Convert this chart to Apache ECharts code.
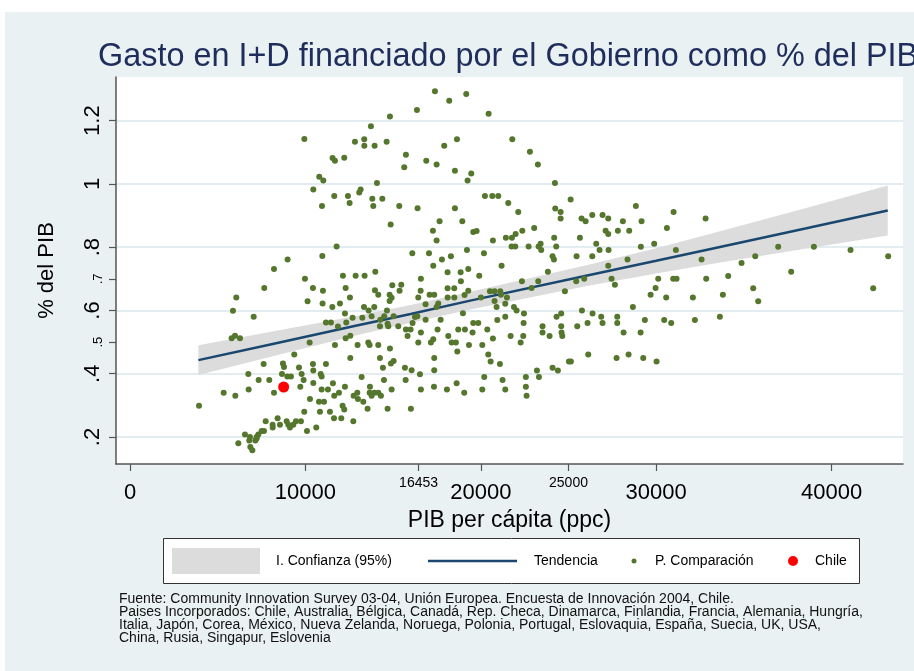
<!DOCTYPE html>
<html>
<head>
<meta charset="utf-8">
<title>Gasto en I+D financiado por el Gobierno</title>
<script src="https://cdn.jsdelivr.net/npm/echarts@6/dist/echarts.min.js"></script>
<style>
  html, body { margin: 0; padding: 0; background: #fff; }
  #chart { width: 914px; height: 671px; }
</style>
</head>
<body>
<div id="chart"></div>
<script>
// ejes
var xMin = -798, xMax = 44070;
var yMin = 0.1146, yMax = 1.338;
var xTicks = [0, 10000, 20000, 30000, 40000];
var xMinorTicks = [16453, 25000];
var yTicks = [0.2, 0.4, 0.6, 0.8, 1, 1.2];
var yMinorTicks = [0.5, 0.7];

// tendencia e intervalo de confianza
var fitX = [3900, 8200, 12800, 16000, 19400, 26200, 30000, 33900, 38500, 43200];
var fitY = [0.443, 0.495, 0.551, 0.589, 0.631, 0.712, 0.757, 0.804, 0.859, 0.916];
var ciHi = [0.490, 0.534, 0.582, 0.617, 0.659, 0.745, 0.797, 0.854, 0.923, 0.995];
var ciLo = [0.396, 0.456, 0.520, 0.561, 0.603, 0.679, 0.717, 0.754, 0.795, 0.837];

// Chile
var chile = [[8760, 0.358]];

// paises de comparacion [PIB per capita, % del PIB]
var compA = [
  [9940,1.142],[12825,1.133],[11550,1.082],[11685,1.073],[12215,1.083],[10790,1.023],[11020,1.011],[10450,0.982],[11645,0.962],[12425,0.962],[10945,0.930],[12520,0.940],[13070,0.973],
  [11780,0.802],[10965,0.772],[8985,0.761],[8210,0.731],[7655,0.671],[6060,0.641],[5870,0.599],[7050,0.580],[9975,0.700],[10430,0.671],[11000,0.662],[12140,0.710],[12865,0.710],[12295,0.671],[10125,0.629],[10980,0.622],[11535,0.611],[11970,0.622],[12540,0.641],[12255,0.590],[11170,0.562],[11455,0.562],[11855,0.549],[12330,0.562],[12690,0.577],[12295,0.512],[12560,0.520],[11685,0.491],[12975,0.491],[10240,0.499],[12560,0.450],[9365,0.461],
  [5795,0.512],[5985,0.520],[6270,0.512],
  [7620,0.431],[8720,0.432],[8780,0.421],[6745,0.399],[7335,0.380],[7940,0.380],[6765,0.350],[5340,0.340],[6005,0.330],[3935,0.299],[8210,0.340],
  [8665,0.399],[8970,0.391],[9175,0.391],[9635,0.420],[9785,0.399],[9900,0.380],[10430,0.431],[10450,0.410],[10870,0.399],[10925,0.391],[11170,0.431],[9710,0.359],[10450,0.371],[10260,0.320],[10775,0.311],[11060,0.311],[10925,0.350],[11285,0.350],[11570,0.370],[11645,0.330],[11915,0.340],[12255,0.359],[12120,0.299],[12215,0.287],[12750,0.330],[12960,0.340],[12995,0.320],[11400,0.280],[10830,0.280],[9935,0.280],[11630,0.259],[12045,0.259],[12730,0.250],[10620,0.230],[10090,0.219],
  [7735,0.250],[8415,0.259],[8130,0.239],[8135,0.230],[8550,0.239],[8930,0.250],[9025,0.239],[9120,0.230],[9310,0.239],[9460,0.250],[9745,0.250],[7640,0.219],[7505,0.219],[7315,0.208],[7220,0.200],[7145,0.189],[6840,0.200],[6555,0.208],[6800,0.189],[6175,0.180],[6860,0.168],[6975,0.158],[7220,0.195]
];
var compB = [
  [17385,1.293],[18200,1.263],[19170,1.284],[16360,1.234],[14820,1.213],[13735,1.182],[13355,1.141],[13360,1.121],[13945,1.121],[14630,1.133],[15730,1.092],[15635,1.053],[16890,1.073],[17480,1.061],[17915,1.121],[18640,1.141],[18525,1.042],[19455,1.033],[19245,1.011],[14080,1.003],[13150,0.982],[13815,0.953],[14385,0.953],[13870,0.930],[15350,0.930],[16395,0.923],[18525,0.923],[14860,0.872],[17650,0.882],[18945,0.882],[17270,0.852],[17480,0.821],[19570,0.848],
  [19210,0.791],[16095,0.781],[17045,0.781],[17785,0.761],[18295,0.771],[17290,0.741],[13375,0.710],[13985,0.722],[18105,0.721],[18850,0.721],[19285,0.731],[16585,0.700],[18865,0.692],[13965,0.664],[14155,0.650],[14800,0.650],[14915,0.640],[15465,0.681],[14955,0.680],[15370,0.662],[17080,0.650],[17345,0.650],[16435,0.641],[16570,0.662],[18105,0.670],[18485,0.670],[18110,0.641],[18490,0.641],[19075,0.649],[19285,0.662],
  [13340,0.611],[13605,0.600],[13775,0.582],[13925,0.611],[13245,0.577],[14650,0.600],[14800,0.630],[15030,0.582],[14270,0.571],[14495,0.582],[14725,0.550],[15295,0.550],[14250,0.550],[14685,0.558],[15730,0.540],[15995,0.540],[16110,0.560],[16245,0.579],[16380,0.582],[16855,0.571],[16850,0.620],[17575,0.622],[17480,0.611],[17710,0.571],[18980,0.591],[17535,0.540],[19570,0.560],
  [15825,0.519],[16435,0.499],[16585,0.530],[17155,0.499],[17290,0.509],[18145,0.519],[18335,0.499],[18580,0.499],[18660,0.470],[19095,0.540],[18715,0.540],[19530,0.530],[19325,0.491],[13585,0.499],[13660,0.491],[14155,0.491],[14820,0.480],[14250,0.450],[14875,0.432],[15030,0.440],[14420,0.419],[15675,0.419],[16055,0.411],[16530,0.398],[15715,0.380],[17345,0.450],[17345,0.411],[16585,0.350],[17330,0.359],[18070,0.350],[18620,0.370],[19055,0.340],[14915,0.350],[14480,0.380],[13205,0.390],[13680,0.359],[13660,0.340],[13925,0.340],[14155,0.340],[14305,0.330],[13775,0.330],[13300,0.311],[13545,0.289],[14685,0.289],[16015,0.289]
];
var compC = [
  [20445,1.222],[21795,1.141],[22800,1.102],[23255,1.061],[24225,1.003],[25120,0.951],[20235,0.962],[20655,0.962],[20995,0.962],[21565,0.940],[22135,0.911],[24245,0.922],[24550,0.911],[24550,0.891],[25745,0.891],[25975,0.882],[19760,0.851],[20690,0.821],[21430,0.830],[21775,0.830],[21985,0.842],[22365,0.852],[23045,0.861],[21755,0.802],[21965,0.802],[22725,0.802],[23295,0.802],[23410,0.811],[23445,0.791],[24185,0.830],[24300,0.802],[25650,0.830],[20180,0.781],[24090,0.771],[24170,0.761],[25460,0.771],[21185,0.741],[19910,0.710],[23825,0.722],[22345,0.692],[23275,0.692],[25440,0.692],[25895,0.700],[24795,0.661],[20520,0.661],[20785,0.661],[21110,0.661],[21145,0.650],[20785,0.630],[20900,0.611],[20005,0.641],[21395,0.621],[21490,0.641],[22895,0.671],[21890,0.611],[22040,0.600],[22460,0.590],[21395,0.580],[20940,0.570],[19855,0.560],[20370,0.540],[20690,0.511],[22440,0.560],[23520,0.550],[23520,0.530],[23920,0.519],[24585,0.550],[24605,0.530],[24645,0.519],[24320,0.580],[24585,0.590],[21700,0.519],[22270,0.499],[22420,0.519],[25765,0.600],[25500,0.550],[26085,0.560],[20085,0.491],[20425,0.461],[20560,0.439],[21090,0.431],[26125,0.461],[20195,0.390],[20085,0.350],[21240,0.380],[21395,0.350],[22570,0.390],[22570,0.359],[22610,0.330],[23200,0.410],[23315,0.390],[24090,0.419],[24395,0.410],[25025,0.439],[25135,0.439]
];
var compD = [
  [26355,0.902],[26940,0.902],[27265,0.891],[27115,0.852],[27265,0.842],[27815,0.852],[28100,0.882],[28460,0.852],[28840,0.930],[29165,0.882],[26580,0.811],[26770,0.791],[27285,0.791],[26355,0.771],[29125,0.801],[29885,0.811],[30610,0.861],[30990,0.911],[32815,0.891],[31120,0.791],[28365,0.761],[27265,0.741],[32585,0.761],[27455,0.700],[27645,0.681],[30115,0.700],[30970,0.700],[31160,0.700],[32850,0.700],[29965,0.671],[29680,0.650],[30570,0.641],[32090,0.641],[33800,0.650],[28670,0.611],[26370,0.590],[26865,0.580],[26940,0.560],[27780,0.580],[27780,0.560],[28140,0.530],[29110,0.530],[29355,0.570],[30455,0.570],[30855,0.560],[32205,0.570],[33630,0.580],[27740,0.450],[28425,0.461],[29260,0.450],[30020,0.439],
  [34105,0.709],[34865,0.750],[35530,0.670],[35645,0.771],[35815,0.629],[36955,0.801],[37695,0.722],[38990,0.801],[41080,0.791],[42370,0.670],[43225,0.771]
];

var FONT = '"Liberation Sans", Arial, sans-serif';
var green = '#55762d';
var navy = '#1a476f';
var axisCol = '#555555';

function yFmt(v) {
  return v < 1 ? String(v).replace(/^0/, '') : String(v);
}

var compPoints = compA.concat(compB, compC, compD);

var chart = echarts.init(document.getElementById('chart'));
var option = {
  animation: false,
  backgroundColor: '#eaf1f3',
  title: {
    text: 'Gasto en I+D financiado por el Gobierno como % del PIB',
    left: 93,
    top: 36,
    textStyle: { fontSize: 32.4, fontWeight: 'normal', color: '#1e2d5b', fontFamily: FONT }
  },
  grid: {
    left: 116, top: 77, right: 11, bottom: 207,
    show: true, backgroundColor: '#ffffff', borderWidth: 0
  },
  xAxis: [
    {
      type: 'value', min: xMin, max: xMax, position: 'bottom',
      name: 'PIB per cápita (ppc)', nameLocation: 'middle', nameGap: 39,
      nameTextStyle: { fontSize: 23, color: '#000', fontFamily: FONT },
      axisLine: { show: true, onZero: false, lineStyle: { color: axisCol, width: 1.5 } },
      axisTick: { show: true, customValues: xTicks, length: 7, lineStyle: { color: axisCol, width: 1.2 } },
      axisLabel: { customValues: xTicks, fontSize: 22, color: '#000', fontFamily: FONT, margin: 18,
        formatter: function (v) { return String(v); } },
      splitLine: { show: false }
    },
    {
      type: 'value', min: xMin, max: xMax, position: 'bottom',
      axisLine: { show: false, onZero: false },
      axisTick: { show: true, customValues: xMinorTicks, length: 7, lineStyle: { color: axisCol, width: 1.2 } },
      axisLabel: { customValues: xMinorTicks, fontSize: 14, color: '#000', fontFamily: FONT, margin: 12,
        formatter: function (v) { return String(v); } },
      splitLine: { show: false }
    }
  ],
  yAxis: [
    {
      type: 'value', min: yMin, max: yMax, position: 'left',
      name: '% del PIB', nameLocation: 'middle', nameGap: 58, nameRotate: 90,
      nameTextStyle: { fontSize: 22, color: '#000', fontFamily: FONT },
      axisLine: { show: true, onZero: false, lineStyle: { color: axisCol, width: 1.5 } },
      axisTick: { show: true, customValues: yTicks, length: 7, lineStyle: { color: axisCol, width: 1.2 } },
      axisLabel: { customValues: yTicks, rotate: 90, fontSize: 22, color: '#000', fontFamily: FONT, margin: 12,
        formatter: yFmt },
      splitLine: { show: true, lineStyle: { color: '#e3ecf0', width: 2 } }
    },
    {
      type: 'value', min: yMin, max: yMax, position: 'left',
      axisLine: { show: false, onZero: false },
      axisTick: { show: true, customValues: yMinorTicks, length: 7, lineStyle: { color: axisCol, width: 1.2 } },
      axisLabel: { customValues: yMinorTicks, rotate: 90, fontSize: 13, color: '#000', fontFamily: FONT, margin: 11,
        formatter: yFmt },
      splitLine: { show: false }
    }
  ],
  series: [
    {
      name: 'I. Confianza (95%)',
      type: 'custom',
      xAxisIndex: 0, yAxisIndex: 0,
      data: fitX.map(function (x, i) { return [x, ciLo[i], ciHi[i]]; }),
      encode: { x: 0, y: [1, 2] },
      renderItem: function (params, api) {
        if (params.dataIndex !== 0) return null;
        var pts = [];
        for (var i = 0; i < fitX.length; i++) pts.push(api.coord([fitX[i], ciHi[i]]));
        for (var j = fitX.length - 1; j >= 0; j--) pts.push(api.coord([fitX[j], ciLo[j]]));
        return { type: 'polygon', shape: { points: pts }, style: { fill: '#dcdcdc' } };
      },
      z: 1
    },
    {
      name: 'Tendencia',
      type: 'line',
      xAxisIndex: 0, yAxisIndex: 0,
      data: fitX.map(function (x, i) { return [x, fitY[i]]; }),
      showSymbol: false,
      lineStyle: { color: navy, width: 2.5 },
      z: 2
    },
    {
      name: 'P. Comparación',
      type: 'scatter',
      xAxisIndex: 0, yAxisIndex: 0,
      data: compPoints,
      symbolSize: 6,
      itemStyle: { color: green, opacity: 1 },
      z: 3
    },
    {
      name: 'Chile',
      type: 'scatter',
      xAxisIndex: 0, yAxisIndex: 0,
      data: chile,
      symbolSize: 11,
      itemStyle: { color: '#ff0000', opacity: 1 },
      z: 4
    }
  ],
  graphic: [
    // bordes blancos exteriores
    { type: 'rect', shape: { x: 0, y: 0, width: 914, height: 12 }, style: { fill: '#ffffff' }, silent: true },
    { type: 'rect', shape: { x: 0, y: 0, width: 5, height: 671 }, style: { fill: '#ffffff' }, silent: true },
    // leyenda
    { type: 'rect', shape: { x: 163.5, y: 538.5, width: 696, height: 45 }, style: { fill: '#ffffff', stroke: '#333333', lineWidth: 1 } },
    { type: 'rect', shape: { x: 172, y: 548, width: 88, height: 26 }, style: { fill: '#dcdcdc' } },
    { type: 'text', x: 276, y: 561, style: { text: 'I. Confianza (95%)', fontSize: 14, fontFamily: FONT, fill: '#000', verticalAlign: 'middle' } },
    { type: 'line', shape: { x1: 428, y1: 561, x2: 517, y2: 561 }, style: { stroke: navy, lineWidth: 2.5 } },
    { type: 'text', x: 534, y: 561, style: { text: 'Tendencia', fontSize: 14, fontFamily: FONT, fill: '#000', verticalAlign: 'middle' } },
    { type: 'circle', shape: { cx: 634, cy: 561, r: 2.5 }, style: { fill: green } },
    { type: 'text', x: 655, y: 561, style: { text: 'P. Comparación', fontSize: 14, fontFamily: FONT, fill: '#000', verticalAlign: 'middle' } },
    { type: 'circle', shape: { cx: 793, cy: 561, r: 5 }, style: { fill: '#ff0000' } },
    { type: 'text', x: 815, y: 561, style: { text: 'Chile', fontSize: 14, fontFamily: FONT, fill: '#000', verticalAlign: 'middle' } },
    // nota al pie
    {
      type: 'text', x: 119, y: 593,
      style: {
        text: 'Fuente: Community Innovation Survey 03-04, Unión Europea. Encuesta de Innovación 2004, Chile.\n' +
              'Paises Incorporados: Chile, Australia, Bélgica, Canadá, Rep. Checa, Dinamarca, Finlandia, Francia, Alemania, Hungría,\n' +
              'Italia, Japón, Corea, México, Nueva Zelanda, Noruega, Polonia, Portugal, Eslovaquia, España, Suecia, UK, USA,\n' +
              'China, Rusia, Singapur, Eslovenia',
        fontSize: 14, lineHeight: 12.8, fontFamily: FONT, fill: '#111'
      }
    }
  ]
};
chart.setOption(option);
</script>
</body>
</html>
